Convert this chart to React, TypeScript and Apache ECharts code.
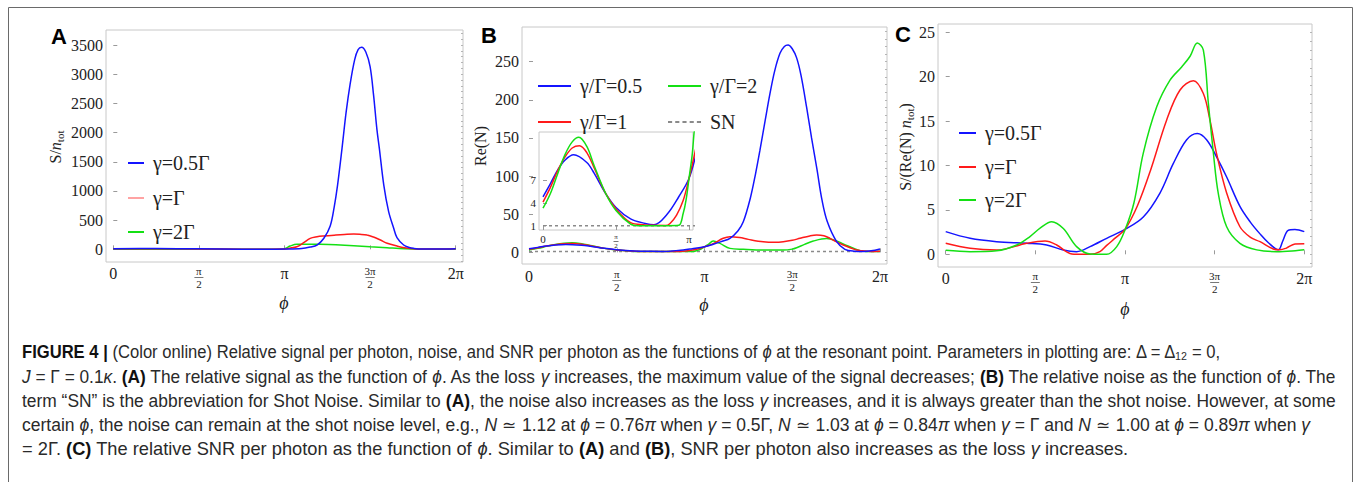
import React, { useEffect, useRef } from "react";
import * as echarts from "echarts";

// ---------- tick labels ----------
const PHI_TICKS = [0, 0.5, 1, 1.5, 2];
const PHI_TICK_LABELS = ["0", "π/2", "π", "3π/2", "2π"];
const INSET_TICKS = [0, 0.5, 1];
const INSET_TICK_LABELS = ["0", "π/2", "π"];
const A_Y_TICKS = [0, 500, 1000, 1500, 2000, 2500, 3000, 3500];
const B_Y_TICKS = [0, 50, 100, 150, 200, 250];
const C_Y_TICKS = [0, 5, 10, 15, 20, 25];
const INSET_Y_TICKS = [1, 4, 7];

// ---------- series names ----------
const A_NAMES = ["γ=0.5Γ", "γ=Γ", "γ=2Γ"];
const B_NAMES = ["γ/Γ=0.5", "γ/Γ=1", "γ/Γ=2", "SN"];
const C_NAMES = ["γ=0.5Γ", "γ=Γ", "γ=2Γ"];

// ---------- panel A : S/n_tot vs phi/π ----------
const A_X_BLUE = [0, 0.25, 0.5, 0.75, 0.9, 1.0, 1.1, 1.15, 1.19, 1.23, 1.267, 1.29, 1.31, 1.336, 1.36, 1.384, 1.41, 1.43, 1.45, 1.475, 1.5, 1.52, 1.54, 1.554, 1.58, 1.608, 1.637, 1.657, 1.696, 1.73, 1.754, 1.8, 1.9, 2.0];
const A_BLUE = [12, 14, 8, 3, 3, 6, 15, 40, 74, 190, 400, 720, 1100, 1730, 2350, 2843, 3250, 3420, 3460, 3380, 3128, 2650, 2050, 1730, 1100, 650, 370, 200, 74, 30, 17, 6, 5, 10];
const A_X_RED = [0, 0.25, 0.5, 0.75, 0.9, 0.994, 1.03, 1.072, 1.11, 1.15, 1.19, 1.228, 1.3, 1.35, 1.404, 1.44, 1.482, 1.52, 1.56, 1.6, 1.657, 1.7, 1.754, 1.8, 1.9, 2.0];
const A_RED = [10, 12, 7, 2, 3, 5, 20, 45, 110, 188, 215, 228, 245, 255, 263, 258, 245, 210, 160, 105, 57, 28, 11, 5, 4, 8];
const A_X_GREEN = [0, 0.25, 0.5, 0.75, 0.9, 0.994, 1.015, 1.033, 1.072, 1.15, 1.209, 1.3, 1.404, 1.5, 1.599, 1.7, 1.793, 1.9, 2.0];
const A_GREEN = [2, 3, 2, 0, 1, 3, 30, 57, 86, 88, 86, 78, 63, 46, 29, 12, 3, 1, 2];

// ---------- panel B : Re(N) vs phi/π ----------
const B_X_BLUE = [0, 0.05, 0.1, 0.15, 0.21, 0.3, 0.35, 0.43, 0.5, 0.6, 0.7, 0.76, 0.85, 0.93, 1.0, 1.05, 1.1, 1.145, 1.19, 1.221, 1.26, 1.29, 1.316, 1.345, 1.373, 1.4, 1.43, 1.455, 1.476, 1.5, 1.525, 1.55, 1.582, 1.61, 1.64, 1.67, 1.7, 1.753, 1.8, 1.85, 1.905, 1.95, 2.0];
const B_BLUE = [4.8, 6.5, 8.3, 9.6, 10.3, 9.3, 7.9, 5.2, 3.4, 1.9, 1.3, 1.12, 2.5, 4.8, 7.2, 10.5, 14.5, 18.4, 28, 40, 70, 102, 134, 172, 208, 238, 261, 270, 272, 267, 255, 232, 190, 150, 110, 68, 40, 14, 4, 1.5, 1.1, 2, 4.5];
const B_X_RED = [0, 0.05, 0.1, 0.15, 0.2, 0.25, 0.3, 0.35, 0.43, 0.5, 0.6, 0.7, 0.75, 0.84, 0.87, 0.915, 0.96, 1.0, 1.05, 1.107, 1.145, 1.2, 1.25, 1.335, 1.4, 1.449, 1.5, 1.544, 1.6, 1.639, 1.68, 1.715, 1.75, 1.791, 1.83, 1.867, 1.9, 1.943, 2.0];
const B_RED = [4.1, 6, 8.2, 10, 11.2, 11.5, 10.6, 8.6, 5.2, 3.2, 1.4, 1.1, 1.05, 1.03, 1.3, 2.4, 4.3, 7.2, 11.5, 18.4, 20.5, 19.3, 17, 13.9, 13.2, 13.9, 15.8, 18.4, 21.5, 22.7, 21.8, 18.4, 14, 9.6, 6, 3, 2, 1.1, 1.5];
const B_X_GREEN = [0, 0.05, 0.1, 0.15, 0.2, 0.245, 0.3, 0.35, 0.43, 0.5, 0.6, 0.65, 0.75, 0.85, 0.93, 0.96, 0.98, 1.0, 1.02, 1.05, 1.088, 1.145, 1.221, 1.335, 1.449, 1.5, 1.525, 1.57, 1.62, 1.696, 1.753, 1.79, 1.829, 1.87, 1.905, 2.0];
const B_GREEN = [3.3, 5.2, 7.8, 10.3, 12, 12.6, 11.4, 8.9, 5.2, 3, 1.2, 1.0, 1.0, 1.0, 1.05, 2.6, 4.4, 7.2, 10, 14.8, 11.8, 5.2, 4, 3, 3, 4.2, 6, 10.5, 14.8, 18, 15, 11, 7.3, 3.5, 1.5, 1];
const SN_X = [0, 2];
const SN = [1, 1];

// ---------- panel C : S/(Re(N) n_tot) vs phi/π ----------
const C_X_BLUE = [0, 0.136, 0.284, 0.452, 0.563, 0.656, 0.73, 0.805, 0.898, 1.0, 1.102, 1.195, 1.269, 1.344, 1.403, 1.455, 1.51, 1.567, 1.641, 1.7, 1.753, 1.8, 1.855, 1.88, 1.91, 1.948, 2.0];
const C_BLUE = [2.55, 1.8, 1.42, 1.24, 1.05, 0.48, 0.3, 0.86, 1.8, 2.8, 4.2, 6.9, 10.2, 12.9, 13.6, 12.9, 11.0, 8.7, 5.4, 3.6, 2.3, 1.3, 0.5, 1.5, 2.7, 2.8, 2.55];
const C_X_RED = [0, 0.136, 0.284, 0.452, 0.554, 0.619, 0.693, 0.75, 0.805, 0.86, 0.898, 0.95, 1.0, 1.07, 1.143, 1.232, 1.307, 1.381, 1.437, 1.474, 1.51, 1.567, 1.641, 1.7, 1.753, 1.827, 1.864, 1.9, 1.948, 2.0];
const C_RED = [1.24, 0.67, 0.48, 1.24, 1.5, 1.05, 0.1, 0, 0, 0.3, 1.0, 1.9, 2.8, 5.5, 9.5, 15.1, 18.5, 19.55, 18.1, 15.1, 11.4, 6.9, 3.1, 1.9, 1.42, 0.6, 0.5, 0.7, 1.16, 1.2];
const C_X_GREEN = [0, 0.136, 0.284, 0.396, 0.47, 0.53, 0.591, 0.656, 0.73, 0.805, 0.861, 0.898, 0.954, 1.0, 1.05, 1.102, 1.177, 1.251, 1.316, 1.363, 1.403, 1.437, 1.465, 1.493, 1.52, 1.567, 1.641, 1.735, 1.846, 1.95, 2.0];
const C_GREEN = [0.45, 0.3, 0.4, 1.05, 2.0, 3.0, 3.67, 2.9, 0.86, 0.03, 0, 0, 0.86, 2.74, 5.8, 11.4, 16.6, 19.6, 21.1, 22.3, 23.8, 23.0, 17.0, 11.4, 6.9, 3.1, 1.24, 0.5, 0.3, 0.4, 0.5];

// ---------- caption ----------
const CAPTION = [
  "{b|FIGURE 4 |} (Color online) Relative signal per photon, noise, and SNR per photon as the functions of {i|ϕ} at the resonant point. Parameters in plotting are: Δ = Δ₁₂ = 0,",
  "{i|J} = Γ = 0.1{i|κ}. {b|(A)} The relative signal as the function of {i|ϕ}. As the loss {i|γ} increases, the maximum value of the signal decreases; {b|(B)} The relative noise as the function of {i|ϕ}. The",
  "term “SN” is the abbreviation for Shot Noise. Similar to {b|(A)}, the noise also increases as the loss {i|γ} increases, and it is always greater than the shot noise. However, at some",
  "certain {i|ϕ}, the noise can remain at the shot noise level, e.g., {i|N} ≃ 1.12 at {i|ϕ} = 0.76{i|π} when {i|γ} = 0.5Γ, {i|N} ≃ 1.03 at {i|ϕ} = 0.84{i|π} when {i|γ} = Γ and {i|N} ≃ 1.00 at {i|ϕ} = 0.89{i|π} when {i|γ}",
  "= 2Γ. {b|(C)} The relative SNR per photon as the function of {i|ϕ}. Similar to {b|(A)} and {b|(B)}, SNR per photon also increases as the loss {i|γ} increases.",
];

const BLUE = "#1414ff";
const RED = "#ff1a1a";
const GREEN = "#14e014";
const SN_COLOR = "#8a8a8a";
const SERIF = "'Liberation Serif', 'DejaVu Serif', serif";
const SANS = "'Liberation Sans', Arial, sans-serif";
const FRAME = "#c8c8c8";
const TICK = "#9a9a9a";

const pairs = (xs: number[], ys: number[]) => xs.map((x, i) => [x, ys[i]]);
const minorTicks = (lo: number, hi: number, step: number) => {
  const out: number[] = [];
  for (let k = Math.ceil(lo / step); k * step <= hi; k++) out.push(+(k * step).toFixed(6));
  return out;
};

function tickFormatter(ticks: number[], labels: string[]) {
  return (v: number) => {
    const i = ticks.findIndex((t) => Math.abs(t - v) < 1e-6);
    if (i < 0) return "";
    const l = labels[i];
    if (l.includes("/")) {
      const [n, d] = l.split("/");
      return `{n|${n}}\n{bar| }\n{d|${d}}`;
    }
    return l;
  };
}

function xAxis(gridIndex: number, min: number, max: number, ticks: number[], labels: string[], fs: number, fracFs: number, margin: number, barW: number) {
  return {
    type: "value",
    gridIndex,
    min,
    max,
    axisLine: { show: false },
    splitLine: { show: false },
    axisTick: { show: true, inside: true, length: 4, customValues: ticks, lineStyle: { color: TICK, width: 1 } },
    axisLabel: {
      customValues: ticks,
      margin,
      hideOverlap: false,
      color: "#222",
      fontFamily: SERIF,
      fontSize: fs,
      lineHeight: fs,
      formatter: tickFormatter(ticks, labels),
      rich: {
        n: { fontFamily: SERIF, fontSize: fracFs, lineHeight: fracFs + 1, align: "center", color: "#222" },
        bar: { fontSize: 1, lineHeight: 1, height: 0.8, width: barW, align: "center", backgroundColor: "#555" },
        d: { fontFamily: SERIF, fontSize: fracFs, lineHeight: fracFs + 1, align: "center", color: "#222" },
      },
    },
  };
}

function yAxisMajor(gridIndex: number, min: number, max: number, ticks: number[], fs: number, margin: number) {
  return {
    type: "value",
    gridIndex,
    min,
    max,
    axisLine: { show: false },
    splitLine: { show: false },
    axisTick: { show: true, inside: true, length: 4, customValues: ticks, lineStyle: { color: TICK, width: 1 } },
    axisLabel: {
      customValues: ticks,
      margin,
      hideOverlap: false,
      color: "#222",
      fontFamily: SERIF,
      fontSize: fs,
      formatter: (v: number) => String(v),
    },
  };
}

function yAxisMinor(gridIndex: number, min: number, max: number, minors: number[]) {
  return {
    type: "value",
    gridIndex,
    min,
    max,
    axisLine: { show: false },
    splitLine: { show: false },
    axisTick: { show: true, inside: true, length: 2, customValues: minors, lineStyle: { color: "#b5b5b5", width: 1 } },
    axisLabel: { show: false },
  };
}

function line(name: string, color: string, xi: number, yi: number, xs: number[], ys: number[], extra: any = {}) {
  return {
    type: "line",
    name,
    xAxisIndex: xi,
    yAxisIndex: yi,
    data: pairs(xs, ys),
    symbol: "none",
    smooth: 0.35,
    clip: true,
    lineStyle: { color, width: 1.5 },
    itemStyle: { color },
    ...extra,
  };
}

const SOLID_ICON = "path://M0 0H32V2H0Z";
const DASH_ICON = "path://M0 0h4v2h-4zM7 0h4v2h-4zM14 0h4v2h-4zM21 0h4v2h-4zM28 0h4v2h-4z";

function legend(name: any, left: number, cy: number, w: number, fs: number, icon = SOLID_ICON) {
  return {
    data: [name],
    left,
    top: cy - 11,
    orient: "vertical",
    icon,
    itemWidth: w,
    itemHeight: 2,
    symbolKeepAspect: false,
    selectedMode: false,
    textStyle: { fontFamily: SERIF, fontSize: fs, color: "#222", lineHeight: 22, padding: [0, 0, 0, 4] },
  };
}

function measureRich(line: string, fam: string, fs: number) {
  const ctx = document.createElement("canvas").getContext("2d");
  if (!ctx) return 0;
  let w = 0;
  const re = /\{(\w)\|([^}]*)\}|([^{]+)/g;
  let m: RegExpExecArray | null;
  while ((m = re.exec(line))) {
    const tag = m[1];
    const txt = tag ? m[2] : m[3];
    ctx.font = `${tag === "i" ? "italic " : ""}${tag === "b" ? "bold " : ""}${fs}px ${fam}`;
    w += ctx.measureText(txt).width;
  }
  return w;
}

function buildOption() {
  const grids = [
    { left: 106, top: 30, width: 357, height: 232 },
    { left: 522, top: 27, width: 365, height: 237 },
    { left: 539, top: 132, width: 154, height: 98, backgroundColor: "#ffffff" },
    { left: 938, top: 24, width: 374, height: 243 },
  ].map((g) => ({ show: true, borderColor: FRAME, borderWidth: 1, backgroundColor: "transparent", outerBoundsMode: "none", containLabel: false, ...g }));

  const xAxes = [
    xAxis(0, -0.0427, 2.0427, PHI_TICKS, PHI_TICK_LABELS, 16, 11, 3, 9),
    xAxis(1, -0.0399, 2.0399, PHI_TICKS, PHI_TICK_LABELS, 16, 11, 4, 9),
    xAxis(2, -0.0274, 1.0274, INSET_TICKS, INSET_TICK_LABELS, 11, 7, 3, 5),
    xAxis(3, -0.043, 2.043, PHI_TICKS, PHI_TICK_LABELS, 16, 11, 3, 9),
  ];
  const yAxes = [
    yAxisMajor(0, -217, 3757, A_Y_TICKS, 16, 3),
    yAxisMinor(0, -217, 3757, minorTicks(-217, 3757, 100)),
    yAxisMajor(1, -15.3, 295.5, B_Y_TICKS, 16, 3),
    yAxisMinor(1, -15.3, 295.5, minorTicks(-15.3, 295.5, 10)),
    yAxisMajor(2, 0.436, 13.3, INSET_Y_TICKS, 11, 3),
    yAxisMajor(3, -1.43, 25.93, C_Y_TICKS, 16, 3),
    yAxisMinor(3, -1.43, 25.93, minorTicks(-1.43, 25.93, 1)),
  ];

  const dashed = { smooth: false, lineStyle: { color: SN_COLOR, width: 1.5, type: [3, 3] } };
  const series: any[] = [
    line(A_NAMES[2], GREEN, 0, 0, A_X_GREEN, A_GREEN),
    line(A_NAMES[1], RED, 0, 0, A_X_RED, A_RED),
    line(A_NAMES[0], BLUE, 0, 0, A_X_BLUE, A_BLUE),

    line(B_NAMES[3], SN_COLOR, 1, 2, SN_X, SN, dashed),
    line(B_NAMES[2], GREEN, 1, 2, B_X_GREEN, B_GREEN),
    line(B_NAMES[1], RED, 1, 2, B_X_RED, B_RED),
    line(B_NAMES[0], BLUE, 1, 2, B_X_BLUE, B_BLUE),

    line(B_NAMES[3], SN_COLOR, 2, 4, SN_X, SN, dashed),
    line(B_NAMES[0], BLUE, 2, 4, B_X_BLUE, B_BLUE),
    line(B_NAMES[1], RED, 2, 4, B_X_RED, B_RED),
    line(B_NAMES[2], GREEN, 2, 4, B_X_GREEN, B_GREEN),

    line(C_NAMES[0], BLUE, 3, 5, C_X_BLUE, C_BLUE),
    line(C_NAMES[1], RED, 3, 5, C_X_RED, C_RED),
    line(C_NAMES[2], GREEN, 3, 5, C_X_GREEN, C_GREEN),
  ];

  const legends = [
    legend(A_NAMES[0], 123, 158, 16, 20),
    legend({ name: A_NAMES[1], itemStyle: { color: "#ffa3a3" } }, 123, 193, 16, 20),
    legend(A_NAMES[2], 123, 227, 16, 20),
    legend(B_NAMES[0], 533, 81, 33, 20),
    legend(B_NAMES[1], 533, 117, 33, 20),
    legend(B_NAMES[2], 663, 81, 33, 20),
    legend(B_NAMES[3], 663, 117, 33, 20, DASH_ICON),
    legend(C_NAMES[0], 954, 128, 17, 20),
    legend(C_NAMES[1], 954, 162, 17, 20),
    legend(C_NAMES[2], 954, 195, 17, 20),
  ];

  const subRich = {
    it: { fontFamily: SERIF, fontSize: 16, fontStyle: "italic", fill: "#222" },
    sub: { fontFamily: SERIF, fontSize: 11, fill: "#222", padding: [9, 0, 0, 0] },
  };
  const t = (text: string, x: number, y: number, font: any, extra: any = {}) => ({
    type: "text",
    x,
    y,
    z: 100,
    ...extra,
    style: { text, fill: "#222", align: "center", verticalAlign: "middle", ...font },
  });

  const graphic: any[] = [
    { type: "polyline", z: 100, shape: { points: [[8.5, 490], [8.5, 7.5], [1352.5, 7.5], [1352.5, 490]] }, style: { stroke: "#6a6a6a", lineWidth: 1, fill: null } },
    t("A", 59, 36, { fontFamily: SANS, fontSize: 22, fontWeight: "bold", fill: "#000" }),
    t("B", 489, 35, { fontFamily: SANS, fontSize: 22, fontWeight: "bold", fill: "#000" }),
    t("C", 903, 34, { fontFamily: SANS, fontSize: 22, fontWeight: "bold", fill: "#000" }),
    t("S/{it|n}{sub|tot}", 55, 147, { fontFamily: SERIF, fontSize: 16, rich: subRich }, { rotation: Math.PI / 2 }),
    t("Re(N)", 480, 146, { fontFamily: SERIF, fontSize: 16 }, { rotation: Math.PI / 2 }),
    t("S/(Re(N) {it|n}{sub|tot})", 905, 147, { fontFamily: SERIF, fontSize: 16, rich: subRich }, { rotation: Math.PI / 2 }),
    t("ϕ", 284, 303, { fontFamily: SERIF, fontSize: 18, fontStyle: "italic" }),
    t("ϕ", 704, 305, { fontFamily: SERIF, fontSize: 18, fontStyle: "italic" }),
    t("ϕ", 1125, 309, { fontFamily: SERIF, fontSize: 18, fontStyle: "italic" }),
  ];

  // caption lines: left edge, vertical centre and target right edge of each line
  const capY = [352, 377, 401, 425, 449];
  const capRight = [1222, 1336, 1336, 1310, 1128];
  const capLeft = 22;
  const capFs = 17.5;
  CAPTION.forEach((line, i) => {
    const w = measureRich(line, SANS, capFs);
    const sx = w > 0 ? (capRight[i] - capLeft) / w : 1;
    graphic.push({
      type: "text",
      x: capLeft,
      y: capY[i],
      scaleX: sx,
      z: 100,
      style: {
        text: line,
        fill: "#2a2a2a",
        align: "left",
        verticalAlign: "middle",
        fontFamily: SANS,
        fontSize: capFs,
        rich: {
          b: { fontFamily: SANS, fontSize: capFs, fontWeight: "bold", fill: "#111" },
          i: { fontFamily: SANS, fontSize: capFs, fontStyle: "italic", fill: "#2a2a2a" },
        },
      },
    });
  });

  return {
    animation: false,
    backgroundColor: "#ffffff",
    grid: grids,
    xAxis: xAxes,
    yAxis: yAxes,
    series,
    legend: legends,
    graphic,
  };
}

export default function App() {
  const ref = useRef<HTMLDivElement>(null);
  useEffect(() => {
    if (!ref.current) return;
    const chart = echarts.init(ref.current, undefined, { renderer: "svg" });
    chart.setOption(buildOption() as any);
    return () => chart.dispose();
  }, []);
  return <div ref={ref} style={{ position: "absolute", left: 0, top: 0, width: 1357, height: 482, background: "#fff" }} />;
}
